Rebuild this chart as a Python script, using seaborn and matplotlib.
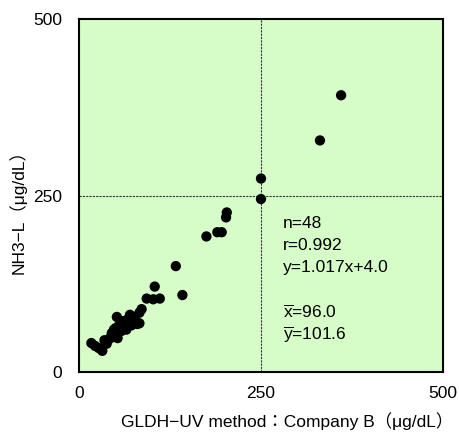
import matplotlib
matplotlib.use("Agg")
import matplotlib.pyplot as plt
import seaborn as sns
import pandas as pd

# Data
x_vals = [360, 331, 250, 250, 203, 202, 196, 190, 175, 142, 133, 104, 93, 102, 111,
          86, 83, 72, 83,
          17, 22, 27, 32, 35, 38, 42, 45, 47, 48, 50, 52, 53, 55, 56, 58, 58, 60,
          62, 63, 65, 66, 68, 70, 72, 75, 78, 80, 44]
y_vals = [392, 328, 274, 245, 226, 219, 198, 198, 192, 109, 150, 121, 104, 103, 104,
          89, 84, 79, 69,
          41, 37, 34, 30, 45, 40, 47, 55, 52, 60, 62, 78, 48, 66, 64, 70, 58, 72,
          65, 68, 60, 74, 70, 81, 66, 75, 72, 68, 50]
tick_vals = [0, 250, 500]
stats_lines = ["n=48", "r=0.992", "y=1.017x+4.0", "",
               r"$\overline{\mathrm{x}}$=96.0", r"$\overline{\mathrm{y}}$=101.6"]
xlabel = "GLDH\u2212UV method\uff1aCompany B\uff08\u03bcg/dL\uff09"
ylabel = "NH3\u2212L\uff08\u03bcg/dL\uff09"

sns.set_style("white")
plt.rcParams['font.family'] = ['Liberation Sans', 'Noto Sans CJK JP', 'DejaVu Sans']
plt.rcParams['mathtext.fontset'] = 'custom'
plt.rcParams['mathtext.rm'] = 'Liberation Sans'
plt.rcParams['text.color'] = 'black'
plt.rcParams['axes.labelcolor'] = 'black'
plt.rcParams['xtick.color'] = 'black'
plt.rcParams['ytick.color'] = 'black'

df = pd.DataFrame({"x": x_vals, "y": y_vals})

fig = plt.figure(figsize=(4.59, 4.37), dpi=100)
ax = fig.add_axes([79/459, 1 - 372/437, (443-79)/459, (372-19)/437])
ax.set_facecolor('#d6fcc8')

ax.axvline(250, color='#333333', lw=0.8, ls=(0, (2, 1)), zorder=1)
ax.axhline(250, color='#333333', lw=0.8, ls=(0, (2, 1)), zorder=1)

sns.scatterplot(data=df, x="x", y="y", ax=ax, color='black', s=55,
                edgecolor='none', zorder=3)

ax.set_xlim(0, 500)
ax.set_ylim(0, 500)
ax.set_xticks(tick_vals)
ax.set_yticks(tick_vals)
ax.tick_params(axis='both', length=0, labelsize=12.5, colors='black')
ax.tick_params(axis='x', pad=10)
ax.tick_params(axis='y', pad=12)
for s in ax.spines.values():
    s.set_color('black')
    s.set_linewidth(1.5)

ax.set_xlabel(xlabel, fontsize=12.5, color='black')
ax.set_ylabel(ylabel, fontsize=12.5, color='black')
ax.xaxis.set_label_coords((287-79)/364, -0.115)
ax.yaxis.set_label_coords(-0.143, 0.467)

for i, line in enumerate(stats_lines):
    if line:
        ax.text(280, 211 - i * 31.5, line, fontsize=12.5, va='center', ha='left',
                color='black')

fig.savefig("out.png", dpi=100)
